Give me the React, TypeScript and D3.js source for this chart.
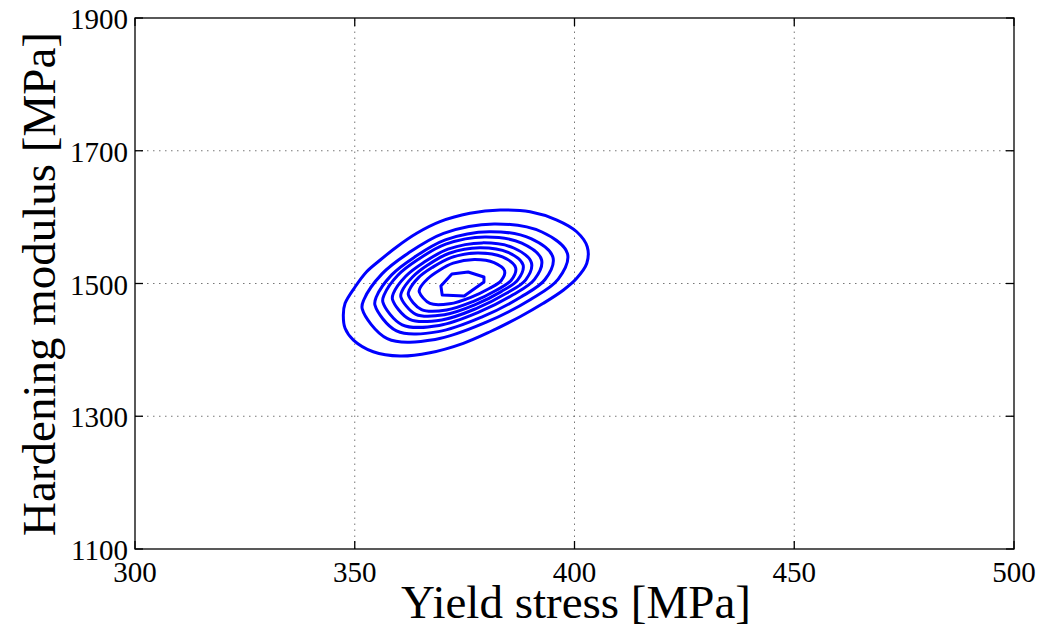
import React from 'react'
import * as d3 from 'd3'

// axis ticks
const xTicks = [300, 350, 400, 450, 500]
const yTicks = [1100, 1300, 1500, 1700, 1900]

// contour lines (yield stress, hardening modulus), outermost first
const contour9 = [
  [347.4, 1452.5], [347.8, 1470.1], [350.1, 1495.1], [352.7, 1517.7], [355.8, 1535.4],
  [359.6, 1555.4], [364.1, 1575.6], [369.4, 1593.1], [376.2, 1605.7], [383.1, 1610.7],
  [389.9, 1608.1], [396.0, 1595.6], [400.5, 1578.0], [402.9, 1555.4], [402.8, 1530.4],
  [400.5, 1507.8], [397.5, 1490.2], [392.9, 1470.1], [387.6, 1449.9], [380.8, 1427.3],
  [374.7, 1409.9], [367.1, 1395.7], [360.3, 1390.7], [354.2, 1397.2], [349.7, 1414.8],
  [347.8, 1432.5],
]
const contour8 = [
  [351.7, 1461.7], [352.1, 1475.9], [356.2, 1514.5], [362.0, 1545.0], [370.2, 1575.6],
  [381.7, 1589.8], [392.6, 1577.6], [398.4, 1545.0], [396.3, 1506.5], [390.0, 1475.9],
  [379.8, 1441.3], [368.3, 1415.7], [357.4, 1416.9],
]
const contour7 = [
  [354.6, 1467.3], [354.9, 1479.6], [358.4, 1513.0], [363.5, 1539.3], [370.6, 1565.7],
  [380.6, 1578.1], [390.1, 1567.5], [395.1, 1539.3], [393.3, 1506.0], [387.8, 1479.6],
  [379.0, 1449.7], [369.0, 1427.5], [359.5, 1428.6],
]
const contour6 = [
  [356.4, 1472.0], [356.7, 1483.0], [359.8, 1512.5], [364.3, 1535.8], [370.7, 1559.2],
  [379.6, 1570.1], [388.0, 1560.8], [392.5, 1535.8], [390.9, 1506.3], [386.0, 1483.0],
  [378.1, 1456.4], [369.2, 1436.8], [360.8, 1437.8],
]
const contour5 = [
  [358.6, 1475.8], [358.8, 1485.3], [361.6, 1511.0], [365.6, 1531.3], [371.2, 1551.7],
  [379.0, 1561.2], [386.3, 1553.1], [390.2, 1531.3], [388.9, 1505.6], [384.5, 1485.3],
  [377.6, 1462.2], [369.8, 1445.1], [362.5, 1445.9],
]
const contour4 = [
  [360.5, 1479.6], [360.7, 1487.8], [363.2, 1510.2], [366.6, 1527.9], [371.5, 1545.6],
  [378.4, 1553.9], [384.9, 1546.8], [388.3, 1527.9], [387.1, 1505.5], [383.3, 1487.8],
  [377.3, 1467.7], [370.4, 1452.9], [363.9, 1453.6],
]
const contour3 = [
  [362.2, 1482.8], [362.4, 1489.9], [364.5, 1508.9], [367.6, 1524.0], [371.9, 1539.1],
  [377.9, 1546.1], [383.6, 1540.1], [386.6, 1524.0], [385.6, 1504.9], [382.2, 1489.9],
  [376.9, 1472.7], [370.9, 1460.1], [365.2, 1460.7],
]
const contour2 = [
  [364.7, 1487.0], [364.8, 1492.5], [366.6, 1507.2], [369.0, 1518.9], [372.4, 1530.6],
  [377.2, 1536.1], [381.7, 1531.4], [384.1, 1518.9], [383.3, 1504.2], [380.6, 1492.5],
  [376.4, 1479.2], [371.6, 1469.4], [367.1, 1469.9],
]
const contour1 = [
  [369.6, 1496.2], [369.9, 1482.7], [374.9, 1481.2], [379.4, 1502.3],
  [379.4, 1509.8], [375.8, 1517.3], [372.1, 1514.3],
]

const smoothContours = [contour9, contour8, contour7, contour6, contour5, contour4, contour3, contour2]

export default function App() {
  const width = 1042
  const height = 626
  const margin = { top: 18, right: 28, bottom: 77, left: 135 }

  const x = d3.scaleLinear().domain([300, 500]).range([margin.left, width - margin.right])
  const y = d3.scaleLinear().domain([1100, 1900]).range([height - margin.bottom, margin.top])

  const [x0, x1] = x.range()
  const [y0, y1] = y.range()

  const smooth = d3.line<number[]>()
    .x(d => x(d[0]))
    .y(d => y(d[1]))
    .curve(d3.curveCatmullRomClosed.alpha(0.5))
  const poly = d3.line<number[]>()
    .x(d => x(d[0]))
    .y(d => y(d[1]))
    .curve(d3.curveLinearClosed)

  const font = '"Liberation Serif", "Times New Roman", serif'
  const tickLen = 8

  return (
    <svg width={width} height={height} style={{ position: 'absolute', left: 0, top: 0, background: '#fff' }}>
      <rect x={0} y={0} width={width} height={height} fill="#fff" />

      {/* grid */}
      <g stroke="#777" strokeWidth={1} strokeDasharray="1.5,4.5">
        {xTicks.slice(1, -1).map(t => (
          <line key={'gx' + t} x1={x(t)} x2={x(t)} y1={y0} y2={y1} />
        ))}
        {yTicks.slice(1, -1).map(t => (
          <line key={'gy' + t} x1={x0} x2={x1} y1={y(t)} y2={y(t)} />
        ))}
      </g>

      {/* contours */}
      <g fill="none" stroke="#0000ff" strokeWidth={3} strokeLinejoin="round">
        {smoothContours.map((c, i) => (
          <path key={i} d={smooth(c) ?? ''} />
        ))}
        <path d={poly(contour1) ?? ''} />
      </g>

      {/* box and ticks */}
      <g stroke="#000" strokeWidth={1.3} fill="none">
        <rect x={x0} y={y1} width={x1 - x0} height={y0 - y1} />
        {xTicks.map(t => (
          <g key={'tx' + t}>
            <line x1={x(t)} x2={x(t)} y1={y0} y2={y0 - tickLen} />
            <line x1={x(t)} x2={x(t)} y1={y1} y2={y1 + tickLen} />
          </g>
        ))}
        {yTicks.map(t => (
          <g key={'ty' + t}>
            <line x1={x0} x2={x0 + tickLen} y1={y(t)} y2={y(t)} />
            <line x1={x1} x2={x1 - tickLen} y1={y(t)} y2={y(t)} />
          </g>
        ))}
      </g>

      {/* tick labels */}
      <g fontFamily={font} fontSize={29} fill="#000">
        {xTicks.map(t => (
          <text key={'lx' + t} x={x(t)} y={y0 + 33} textAnchor="middle">{t}</text>
        ))}
        {yTicks.map(t => (
          <text key={'ly' + t} x={x0 - 7} y={y(t) + 11} textAnchor="end">{t}</text>
        ))}
      </g>

      {/* axis titles */}
      <text x={576} y={618} textAnchor="middle" fontFamily={font} fontSize={47} fill="#000">
        Yield stress [MPa]
      </text>
      <text transform="translate(55,284) rotate(-90)" textAnchor="middle" fontFamily={font} fontSize={47} fill="#000">
        Hardening modulus [MPa]
      </text>
    </svg>
  )
}
